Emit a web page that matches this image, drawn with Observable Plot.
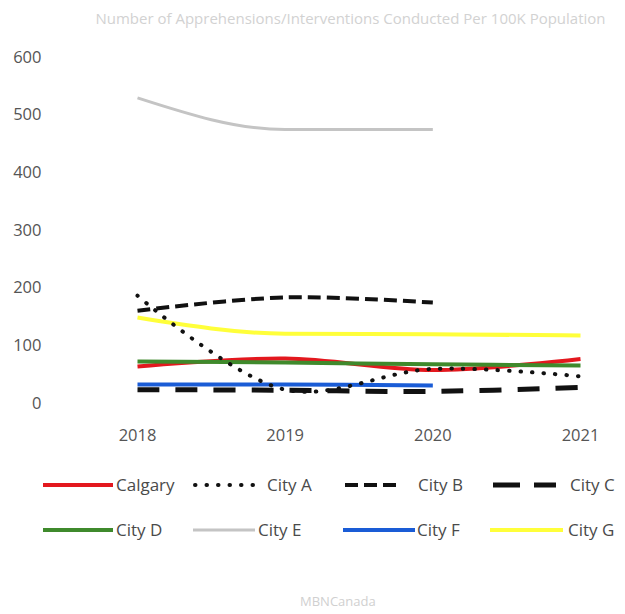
<!DOCTYPE html>
<html>
<head>
<meta charset="utf-8">
<script src="https://cdn.jsdelivr.net/npm/d3@7"></script>
<script src="https://cdn.jsdelivr.net/npm/@observablehq/plot@0.6"></script>
<style>
  body { margin: 0; background: #fff; font-family: "Open Sans", "Noto Sans", sans-serif; width: 625px; height: 614px; overflow: hidden; position: relative; }
  #title { height: 36px; line-height: 36px; text-align: center; color: #d2d2d2; font-size: 15px; padding-left: 76px; white-space: nowrap; }
  #legend { position: absolute; left: 0; top: 456px; width: 625px; height: 100px; }
  .item { position: absolute; font-size: 17px; color: #4a4a4a; white-space: nowrap; height: 20px; width: 200px; }
  .item svg { position: absolute; left: 0; top: 5px; }
  .item span { position: absolute; top: -2px; line-height: 24px; }
  #caption { position: absolute; top: 592px; left: 300px; width: 60px; text-align: center; color: #d0d0d0; font-size: 13px; white-space: nowrap; }
</style>
</head>
<body>
<div id="title">Number of Apprehensions/Interventions Conducted Per 100K Population</div>
<div id="chart"></div>
<div id="legend"></div>
<div id="caption">MBNCanada</div>
<script>
const years = [2018, 2019, 2020, 2021];
const yTicks = [0, 100, 200, 300, 400, 500, 600];
const cities = ["Calgary", "City A", "City B", "City C", "City D", "City E", "City F", "City G"];
const calgary = [64, 78, 58, 77];
const cityA = [187, 24, 60, 47];
const cityB = [161, 184, 175, null];
const cityC = [24, 23, 21, 28];
const cityD = [73, 71, 68, 66];
const cityE = [530, 475, 475, null];
const cityF = [33, 33, 31, null];
const cityG = [149, 121, 120, 118];

const series = [calgary, cityA, cityB, cityC, cityD, cityE, cityF, cityG];
const colors = ["#e3181e", "#111111", "#111111", "#111111", "#3f8a2c", "#c4c4c4", "#1a5cd6", "#ffff3a"];
const widths = [4, 4, 4, 5, 4, 3, 4, 4];
const dashes = [null, "0.5,11", "13,6", "22,16", null, null, null, null];
const caps = ["butt", "round", "butt", "butt", "butt", "butt", "butt", "butt"];
const curves = ["catmull-rom", "catmull-rom", "catmull-rom", "catmull-rom", "catmull-rom", "monotone-x", "catmull-rom", "monotone-x"];
// draw order: back to front
const order = [5, 7, 0, 4, 6, 3, 1, 2];

const rows = [];
series.forEach((vals, i) => {
  years.forEach((yr, j) => {
    if (vals[j] != null) rows.push({city: cities[i], year: yr, value: vals[j]});
  });
});

const marks = order.map(i => Plot.line(rows.filter(d => d.city === cities[i]), {
  x: "year", y: "value",
  stroke: colors[i], strokeWidth: widths[i],
  strokeDasharray: dashes[i], strokeLinecap: caps[i],
  curve: curves[i]
}));

const plot = Plot.plot({
  width: 625,
  height: 420,
  marginTop: 21,
  marginBottom: 53,
  marginLeft: 137,
  marginRight: 45,
  style: { fontFamily: "'Open Sans', 'Noto Sans', sans-serif", fontSize: "16.5px", color: "#555", background: "#fff" },
  x: { domain: [2018, 2021], ticks: years, tickFormat: d => String(d), tickSize: 0, tickPadding: 26, label: null },
  y: { domain: [0, 600], ticks: yTicks, tickSize: 0, tickPadding: 96, label: null },
  marks: marks
});
document.getElementById("chart").appendChild(plot);

// legend layout: [swatch x, swatch end x, label x, row]
const legendLayout = [[43, 113, 116, 0], [193, 255, 267, 0], [345, 400, 418, 0], [493, 556, 570, 0],
                      [43, 113, 116, 1], [193, 255, 258, 1], [343, 415, 417, 1], [490, 563, 568, 1]];
const legend = document.getElementById("legend");
const ns = "http://www.w3.org/2000/svg";
cities.forEach((c, i) => {
  const [sx, ex, lx, r] = legendLayout[i];
  const item = document.createElement("div");
  item.className = "item";
  item.style.left = sx + "px";
  item.style.top = (19 + r * 45) + "px";
  const svg = document.createElementNS(ns, "svg");
  svg.setAttribute("width", ex - sx + 2);
  svg.setAttribute("height", 10);
  const ln = document.createElementNS(ns, "line");
  ln.setAttribute("x1", i === 1 ? 2 : 0);
  ln.setAttribute("x2", ex - sx);
  ln.setAttribute("y1", 5);
  ln.setAttribute("y2", 5);
  ln.setAttribute("stroke", colors[i]);
  ln.setAttribute("stroke-width", widths[i]);
  if (dashes[i]) ln.setAttribute("stroke-dasharray", i === 3 ? "27,14" : dashes[i]);
  ln.setAttribute("stroke-linecap", caps[i]);
  svg.appendChild(ln);
  item.appendChild(svg);
  const t = document.createElement("span");
  t.textContent = c;
  t.style.left = (lx - sx) + "px";
  item.appendChild(t);
  legend.appendChild(item);
});
</script>
</body>
</html>
